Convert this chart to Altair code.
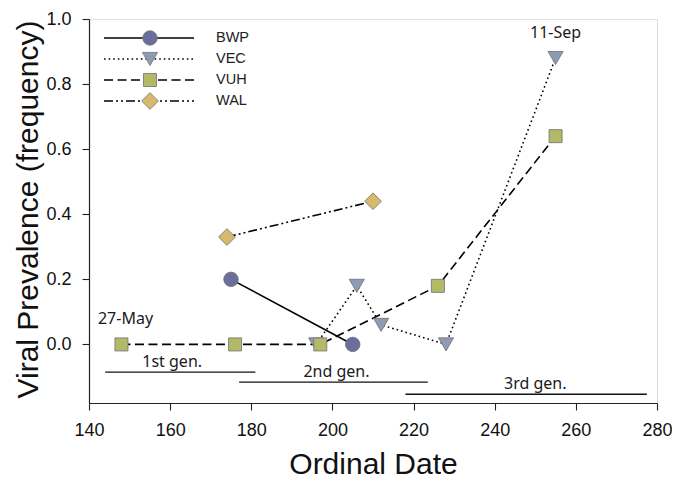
import altair as alt
import pandas as pd

# ---- data ----
series = ["BWP", "VEC", "VUH", "WAL"]
bwp_x = [175, 205]
bwp_y = [0.20, 0.00]
vec_x = [196, 206, 212, 228, 255]
vec_y = [0.00, 0.18, 0.06, 0.00, 0.88]
vuh_x = [148, 176, 197, 226, 255]
vuh_y = [0.00, 0.00, 0.00, 0.18, 0.64]
wal_x = [174, 210]
wal_y = [0.33, 0.44]

x_ticks = [140, 160, 180, 200, 220, 240, 260, 280]
y_ticks = [0.0, 0.2, 0.4, 0.6, 0.8, 1.0]

gen_labels = ["1st gen.", "2nd gen.", "3rd gen."]
gen_start = [144, 177, 218]
gen_end = [181, 223.5, 277.5]
gen_level = [-0.085, -0.116, -0.153]
gen_label_x = [160.5, 201, 250]

date_labels = ["27-May", "11-Sep"]
date_label_x = [149, 255]
date_label_y = [0.00, 0.88]

# ---- styles ----
xs_data = {"BWP": bwp_x, "VEC": vec_x, "VUH": vuh_x, "WAL": wal_x}
ys_data = {"BWP": bwp_y, "VEC": vec_y, "VUH": vuh_y, "WAL": wal_y}
fills = {"BWP": "#6b6e9d", "VEC": "#8d9cb4", "VUH": "#b2ba68", "WAL": "#d8b86b"}
shapes = {"BWP": "circle", "VEC": "triangle-down", "VUH": "square", "WAL": "diamond"}
sizes = {"BWP": 210, "VEC": 230, "VUH": 170, "WAL": 280}
dashes = {"BWP": None, "VEC": [1.6, 3], "VUH": [9, 4.5], "WAL": [9, 3, 2, 3, 2, 3]}
legend_rows = {"BWP": 19, "VEC": 40, "VUH": 61, "WAL": 82}

AX = "Liberation Sans"
TX = "Noto Sans"

x_enc = alt.X(
    "x:Q",
    scale=alt.Scale(domain=[140, 280], nice=False, zero=False),
    axis=alt.Axis(
        values=x_ticks, format="d", title="Ordinal Date", grid=False,
        tickSize=7, labelFontSize=18, titleFontSize=30, labelPadding=11,
        titleY=70, titleBaseline="alphabetic", labelFont=AX, titleFont=AX,
        titleFontWeight="normal", domainColor="#222", tickColor="#222",
        labelColor="#111", titleColor="#111", domainWidth=1.2, tickWidth=1.1,
        labelFlush=False, labelOverlap=False,
    ),
)
y_enc = alt.Y(
    "y:Q",
    scale=alt.Scale(domain=[-0.18, 1.0], nice=False, zero=False),
    axis=alt.Axis(
        values=y_ticks, format=".1f", title="Viral Prevalence (frequency)",
        grid=False, tickSize=7, labelFontSize=18, titleFontSize=30,
        labelPadding=11, titleX=-52, titleY=190, titleBaseline="alphabetic",
        titleAngle=270, labelFont=AX, titleFont=AX, titleFontWeight="normal",
        domainColor="#222", tickColor="#222", labelColor="#111",
        titleColor="#111", domainWidth=1.2, tickWidth=1.1, labelFlush=False,
        labelOverlap=False,
    ),
)

layers = []

# generation bars
gen_df = pd.DataFrame({"x": gen_start, "x2": gen_end, "y": gen_level})
layers.append(
    alt.Chart(gen_df).mark_rule(color="#111", strokeWidth=1.4).encode(
        x=x_enc, x2="x2:Q", y=y_enc
    )
)
gen_txt = pd.DataFrame({"x": gen_label_x, "y": gen_level, "t": gen_labels})
layers.append(
    alt.Chart(gen_txt).mark_text(
        font=TX, fontSize=16, align="center", baseline="alphabetic", dy=-5.5,
        color="#1a1a1a",
    ).encode(x=x_enc, y=y_enc, text="t:N")
)
date_txt = pd.DataFrame({"x": date_label_x, "y": date_label_y, "t": date_labels})
layers.append(
    alt.Chart(date_txt).mark_text(
        font=TX, fontSize=16, align="center", baseline="alphabetic", dy=-20,
        color="#1a1a1a",
    ).encode(x=x_enc, y=y_enc, text="t:N")
)

# lines
for s in series:
    df = pd.DataFrame({"x": xs_data[s], "y": ys_data[s]})
    kw = dict(color="black", strokeWidth=1.6)
    if dashes[s] is not None:
        kw["strokeDash"] = dashes[s]
    layers.append(alt.Chart(df).mark_line(**kw).encode(x=x_enc, y=y_enc))

# points
for s in ["VEC", "BWP", "VUH", "WAL"]:
    df = pd.DataFrame({"x": xs_data[s], "y": ys_data[s]})
    layers.append(
        alt.Chart(df).mark_point(
            shape=shapes[s], size=sizes[s], filled=True, fill=fills[s],
            stroke="#707070", strokeWidth=0.8, opacity=1,
        ).encode(x=x_enc, y=y_enc)
    )

# legend
for s in series:
    ry = legend_rows[s]
    ldf = pd.DataFrame({"t": [s]})
    kw = dict(color="black", strokeWidth=1.6)
    if dashes[s] is not None:
        kw["strokeDash"] = dashes[s]
    layers.append(
        alt.Chart(ldf).mark_rule(**kw).encode(
            x=alt.value(15), x2=alt.value(105), y=alt.value(ry)
        )
    )
    layers.append(
        alt.Chart(ldf).mark_point(
            shape=shapes[s], size=sizes[s], filled=True, fill=fills[s],
            stroke="#707070", strokeWidth=0.8, opacity=1,
        ).encode(x=alt.value(61), y=alt.value(ry))
    )
    layers.append(
        alt.Chart(ldf).mark_text(
            font=AX, fontSize=14.5, align="left", baseline="middle", color="#222"
        ).encode(x=alt.value(127), y=alt.value(ry), text="t:N")
    )

chart = alt.layer(*layers).properties(
    width=568,
    height=384,
    padding={"left": 81, "top": 11, "right": 15, "bottom": 77},
    autosize=alt.AutoSizeParams(type="none"),
).configure_view(stroke=None).configure(background="white")

chart.save("out.html", embed_options={"renderer": "svg", "actions": False})
